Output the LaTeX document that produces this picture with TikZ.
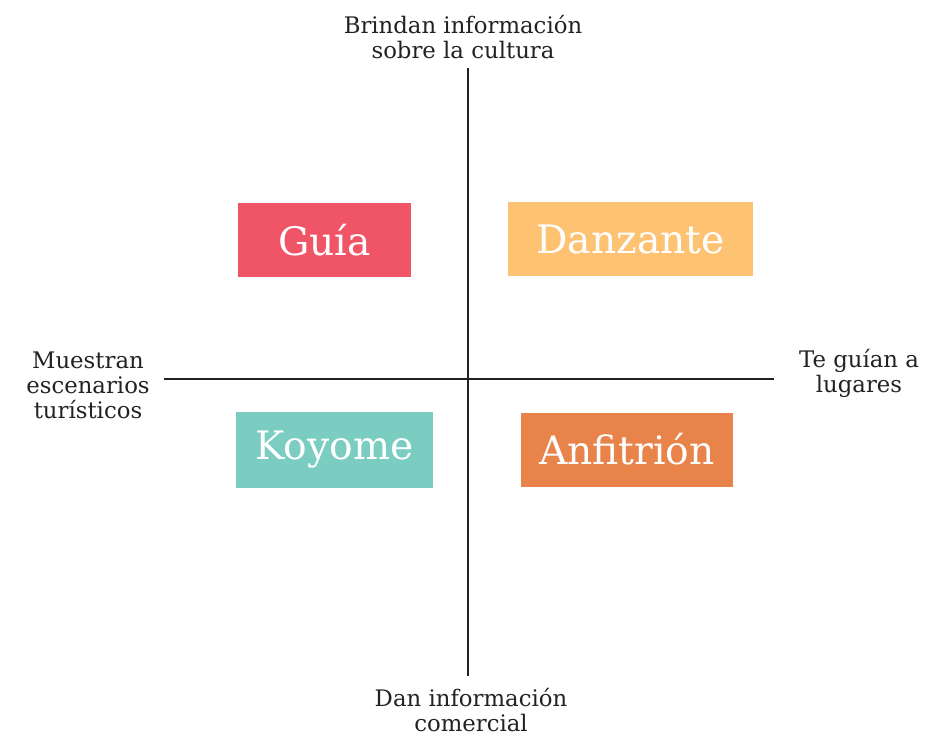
\documentclass[tikz,border=0pt]{standalone}
\usepackage{fontspec}
\setmainfont{DejaVu Serif}
\usetikzlibrary{positioning}
\definecolor{guiared}{HTML}{F05567}
\definecolor{danzyellow}{HTML}{FEC372}
\definecolor{koyteal}{HTML}{7ACDC0}
\definecolor{anforange}{HTML}{E8834A}
\definecolor{axisgray}{HTML}{222222}
\tikzset{
  role/.style={minimum height=37pt,inner sep=0pt,text=white,font=\fontsize{19.6}{22}\selectfont},
  axislabel/.style={align=center,text=axisgray,font=\fontsize{11.4}{12.5}\selectfont},
  axisline/.style={draw=axisgray,line width=1.1pt},
}
\begin{document}
\begin{tikzpicture}[x=0.5pt,y=-0.5pt]
			\useasboundingbox (0,0) rectangle (942,739);
			\node[role,fill=guiared,minimum width=86.5pt] (guia) at (324.5,240) {Guía};
			\node[role,fill=danzyellow,minimum width=122.5pt] (danz) at (630.5,239) {Danzante};
			\node[role,fill=koyteal,minimum width=98.5pt,minimum height=38pt] (koy) at (334.5,450) {Koyome};
			\node[role,fill=anforange,minimum width=106pt] (anf) at (627,449.5) {Anfitrión};
			\node[axislabel] (top) at (463,37) {Brindan información\\sobre la cultura};
			\node[axislabel] (bottom) at (471,710) {Dan información\\comercial};
			\node[axislabel] (left) at (88,385) {Muestran\\escenarios\\turísticos};
			\node[axislabel] (right) at (859,373) {Te guían a\\lugares};
			\coordinate (vtop) at (468,68);
			\coordinate (vbot) at (468,676);
			\coordinate (hleft) at (164,379);
			\coordinate (hright) at (774,379);
			\draw[axisline] (vtop) -- (vbot);
			\draw[axisline] (hleft) -- (hright);
		\end{tikzpicture}
\end{document}
